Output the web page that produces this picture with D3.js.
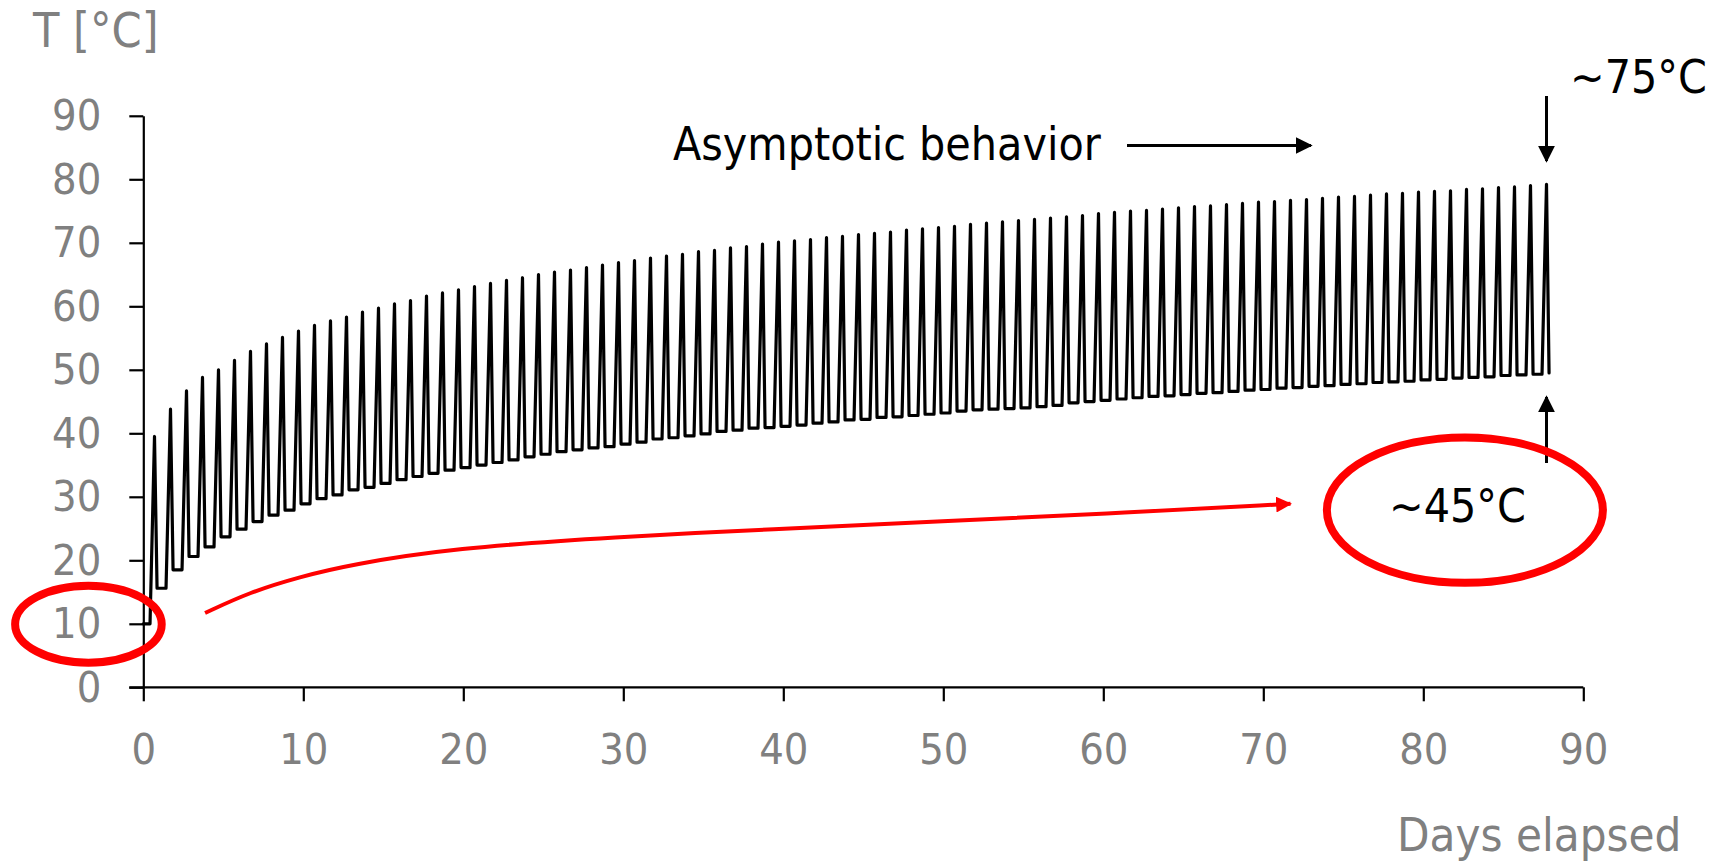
<!DOCTYPE html>
<html><head><meta charset="utf-8">
<script src="https://cdn.jsdelivr.net/npm/d3@7"></script>
<style>
html,body{margin:0;padding:0;background:#fff;}
svg{display:block;}
text{font-family:"DejaVu Sans Condensed","DejaVu Sans",sans-serif;}
</style></head><body>
<script>
// ---- data ----
const xTicks = [0,10,20,30,40,50,60,70,80,90];
const yTicks = [0,10,20,30,40,50,60,70,80,90];
const startTemp = 10;
// daily maximum temperature of each cycle (day index 0..87)
const peaks = [39.5,43.8,46.7,48.8,50.0,51.5,52.9,54.1,55.1,56.1,
57.0,57.7,58.3,59.1,59.7,60.4,60.9,61.6,62.1,62.6,
63.1,63.6,64.1,64.5,65.0,65.4,65.7,66.1,66.5,66.9,
67.2,67.6,67.9,68.2,68.6,68.8,69.2,69.4,69.8,70.1,
70.3,70.5,70.8,71.0,71.3,71.5,71.7,72.0,72.2,72.4,
72.6,72.9,73.1,73.3,73.5,73.7,73.9,74.1,74.3,74.6,
74.8,75.0,75.1,75.3,75.5,75.7,75.8,76.0,76.2,76.4,
76.5,76.7,76.8,77.0,77.2,77.3,77.5,77.7,77.8,78.0,
78.1,78.2,78.4,78.5,78.7,78.8,79.0,79.2];
// minimum temperature after each cycle's peak
const troughs = [15.6,18.5,20.6,22.1,23.7,24.9,26.1,27.1,27.9,28.9,
29.7,30.3,31.1,31.5,32.1,32.7,33.2,33.7,34.2,34.6,
35.0,35.4,35.8,36.3,36.7,37.1,37.4,37.7,37.9,38.3,
38.6,39.1,39.3,39.6,39.9,40.3,40.5,40.8,40.9,41.1,
41.3,41.6,41.8,42.1,42.2,42.5,42.6,42.8,43.0,43.2,
43.5,43.7,43.8,43.9,44.0,44.2,44.4,44.8,45.0,45.2,
45.4,45.6,45.8,45.9,46.1,46.3,46.4,46.6,46.8,46.9,
47.1,47.2,47.4,47.5,47.7,47.8,48.0,48.1,48.2,48.4,
48.5,48.7,48.8,48.9,49.1,49.2,49.3,49.5];
// fraction of the day at which heating starts, peaks, and cooling ends
const phase = {riseStart:0.42, peak:0.70, fallEnd:0.86};
// red trend annotation (days, °C)
const trendDays = [3.86,6.67,9.79,12.92,19.3,29.6,39.3,49.6,60.0,71.7];
const trendTemps = [11.7,15.0,17.4,19.3,21.9,23.7,24.9,26.1,27.3,28.9];

// ---- layout ----
const W = 1729, H = 862;
const svg = d3.select("body").append("svg").attr("width",W).attr("height",H);
svg.append("rect").attr("width",W).attr("height",H).attr("fill","#fff");
const x = d3.scaleLinear().domain([0,90]).range([143.3,1583.3]);
const y = d3.scaleLinear().domain([0,90]).range([687.3,115.8]);
const grey = "#808080";

const defs = svg.append("defs");
function marker(id,color,size){
  defs.append("marker").attr("id",id).attr("viewBox","0 0 10 10").attr("refX",9).attr("refY",5)
    .attr("markerUnits","userSpaceOnUse").attr("markerWidth",size).attr("markerHeight",size)
    .attr("orient","auto").append("path").attr("d","M0,0L10,5L0,10Z").attr("fill",color);
}
marker("ahB","#000",17);
marker("ahR","#f00",16);

// axes
const xAxis = d3.axisBottom(x).tickValues(xTicks).tickSize(14).tickPadding(32).tickSizeOuter(0);
const gx = svg.append("g").attr("transform",`translate(0,${y(0)})`).call(xAxis);
const yAxis = d3.axisLeft(y).tickValues(yTicks).tickSize(14).tickPadding(28).tickSizeOuter(0);
const gy = svg.append("g").attr("transform",`translate(${x(0)},0)`).call(yAxis);
[gx,gy].forEach(g=>{
  g.select(".domain").attr("stroke","#000").attr("stroke-width",2.2);
  g.selectAll(".tick line").attr("stroke","#000").attr("stroke-width",2.2);
  g.selectAll(".tick text").attr("fill",grey).attr("font-size",43)
   .attr("font-family",'"DejaVu Sans Condensed","DejaVu Sans",sans-serif');
});
gx.select(".domain").attr("d",`M${x(0)-14},0H${x(90)}`);
gx.selectAll(".tick text").attr("dy","0.71em");

// axis titles
svg.append("text").attr("x",33).attr("y",47).attr("fill",grey).attr("font-size",48).text("T [°C]");
svg.append("text").attr("x",1397).attr("y",851).attr("fill",grey).attr("font-size",47).text("Days elapsed");

// temperature series
const pts = [[0,startTemp],[phase.riseStart,startTemp]];
peaks.forEach((p,d)=>{
  pts.push([d+phase.peak,p]);
  pts.push([d+phase.fallEnd,troughs[d]]);
  if(d<peaks.length-1) pts.push([d+1+phase.riseStart,troughs[d]]);
});
svg.append("path").datum(pts)
  .attr("d",d3.line().x(d=>x(d[0])).y(d=>y(d[1])))
  .attr("fill","none").attr("stroke","#000").attr("stroke-width",3.2)
  .attr("stroke-linejoin","round").attr("stroke-linecap","round");

// annotations
svg.append("text").attr("x",673).attr("y",160).attr("fill","#000").attr("font-size",46).text("Asymptotic behavior");
svg.append("line").attr("x1",1127).attr("x2",1311).attr("y1",145.5).attr("y2",145.5)
  .attr("stroke","#000").attr("stroke-width",3).attr("marker-end","url(#ahB)");
svg.append("text").attr("x",1570).attr("y",93).attr("fill","#000").attr("font-size",46).text("~75°C");
svg.append("line").attr("x1",x(87.7)).attr("x2",x(87.7)).attr("y1",96).attr("y2",161)
  .attr("stroke","#000").attr("stroke-width",3).attr("marker-end","url(#ahB)");
svg.append("line").attr("x1",x(87.7)).attr("x2",x(87.7)).attr("y1",463).attr("y2",397)
  .attr("stroke","#000").attr("stroke-width",3).attr("marker-end","url(#ahB)");

// red trend curve
const trend = trendDays.map((d,i)=>[d,trendTemps[i]]);
svg.append("path").datum(trend)
  .attr("d",d3.line().curve(d3.curveBasis).x(d=>x(d[0])).y(d=>y(d[1])))
  .attr("fill","none").attr("stroke","#f00").attr("stroke-width",4).attr("marker-end","url(#ahR)");

// red ellipses
svg.append("ellipse").attr("cx",x(-3.43)).attr("cy",y(9.94)).attr("rx",73.3).attr("ry",38.5)
  .attr("fill","none").attr("stroke","#f00").attr("stroke-width",8);
svg.append("ellipse").attr("cx",x(82.6)).attr("cy",y(27.9)).attr("rx",138).attr("ry",72.7)
  .attr("fill","none").attr("stroke","#f00").attr("stroke-width",8);
svg.append("text").attr("x",1389).attr("y",522).attr("fill","#000").attr("font-size",46).text("~45°C");
</script>
</body></html>
